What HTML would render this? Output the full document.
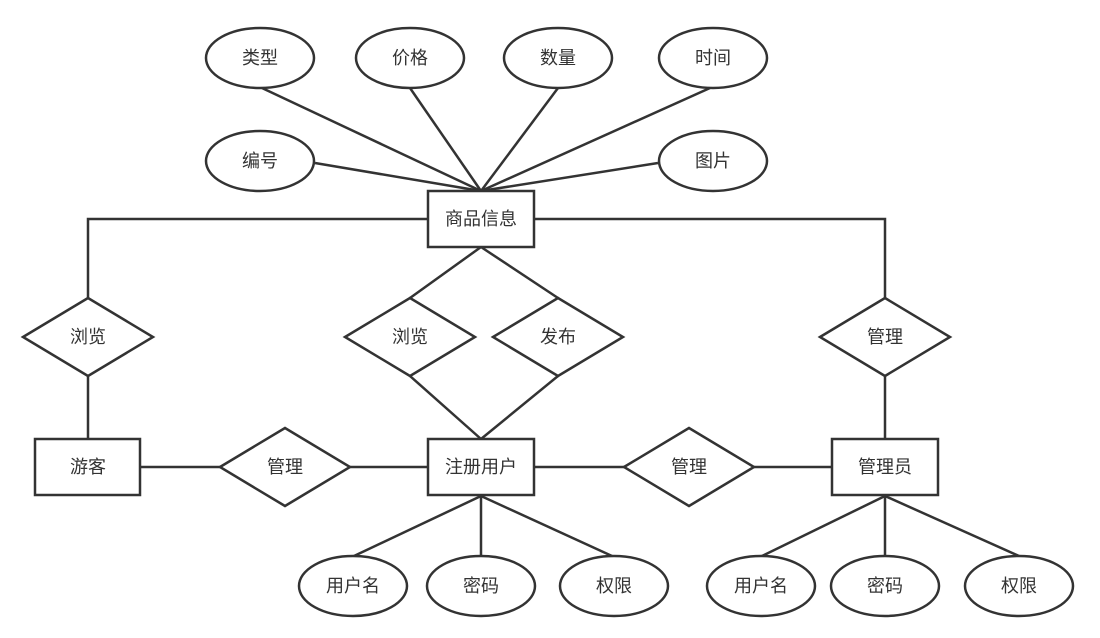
<!DOCTYPE html>
<html><head><meta charset="utf-8"><style>
html,body{margin:0;padding:0;background:#fff;}
svg{display:block;}
text{font-family:"Liberation Sans","Noto Sans CJK SC",sans-serif;font-size:18px;fill:#333;text-anchor:middle;dominant-baseline:central;}
</style></head><body>
<svg width="1100" height="638" viewBox="0 0 1100 638" xmlns="http://www.w3.org/2000/svg">
<g stroke="#333" stroke-width="2.5" fill="none">
<!-- attribute lines top -->
<line x1="262" y1="88" x2="481" y2="191"/>
<line x1="410" y1="88" x2="481" y2="191"/>
<line x1="558" y1="88" x2="481" y2="191"/>
<line x1="710" y1="88" x2="481" y2="191"/>
<line x1="315" y1="163" x2="481" y2="191"/>
<line x1="658" y1="163" x2="481" y2="191"/>
<!-- left/right connectors -->
<polyline points="428,219 88,219 88,298"/>
<line x1="88" y1="376" x2="88" y2="439"/>
<polyline points="534,219 885,219 885,298"/>
<line x1="885" y1="376" x2="885" y2="439"/>
<!-- middle -->
<line x1="481" y1="247" x2="410" y2="298"/>
<line x1="481" y1="247" x2="558" y2="298"/>
<line x1="410" y1="376" x2="481" y2="439"/>
<line x1="558" y1="376" x2="481" y2="439"/>
<!-- horizontal bottom -->
<line x1="140" y1="467" x2="220" y2="467"/>
<line x1="350" y1="467" x2="428" y2="467"/>
<line x1="534" y1="467" x2="624" y2="467"/>
<line x1="754" y1="467" x2="832" y2="467"/>
<!-- bottom attributes -->
<line x1="481" y1="496" x2="354" y2="556"/>
<line x1="481" y1="496" x2="481" y2="556"/>
<line x1="481" y1="496" x2="612" y2="556"/>
<line x1="885" y1="496" x2="762" y2="556"/>
<line x1="885" y1="496" x2="885" y2="556"/>
<line x1="885" y1="496" x2="1019" y2="556"/>
</g>
<g stroke="#333" stroke-width="2.5" fill="#fff">
<ellipse cx="260" cy="58" rx="54" ry="30"/>
<ellipse cx="410" cy="58" rx="54" ry="30"/>
<ellipse cx="558" cy="58" rx="54" ry="30"/>
<ellipse cx="713" cy="58" rx="54" ry="30"/>
<ellipse cx="260" cy="161" rx="54" ry="30"/>
<ellipse cx="713" cy="161" rx="54" ry="30"/>
<rect x="428" y="191" width="106" height="56"/>
<polygon points="23,337 88,298 153,337 88,376"/>
<polygon points="345,337 410,298 475,337 410,376"/>
<polygon points="493,337 558,298 623,337 558,376"/>
<polygon points="820,337 885,298 950,337 885,376"/>
<rect x="35" y="439" width="105" height="56"/>
<rect x="428" y="439" width="106" height="56"/>
<rect x="832" y="439" width="106" height="56"/>
<polygon points="220,467 285,428 350,467 285,506"/>
<polygon points="624,467 689,428 754,467 689,506"/>
<ellipse cx="353" cy="586" rx="54" ry="30"/>
<ellipse cx="481" cy="586" rx="54" ry="30"/>
<ellipse cx="614" cy="586" rx="54" ry="30"/>
<ellipse cx="761" cy="586" rx="54" ry="30"/>
<ellipse cx="885" cy="586" rx="54" ry="30"/>
<ellipse cx="1019" cy="586" rx="54" ry="30"/>
</g>
<text x="260" y="58">类型</text>
<text x="410" y="58">价格</text>
<text x="558" y="58">数量</text>
<text x="713" y="58">时间</text>
<text x="260" y="161">编号</text>
<text x="713" y="161">图片</text>
<text x="481" y="219">商品信息</text>
<text x="88" y="337">浏览</text>
<text x="410" y="337">浏览</text>
<text x="558" y="337">发布</text>
<text x="885" y="337">管理</text>
<text x="88" y="467">游客</text>
<text x="285" y="467">管理</text>
<text x="481" y="467">注册用户</text>
<text x="689" y="467">管理</text>
<text x="885" y="467">管理员</text>
<text x="353" y="586">用户名</text>
<text x="481" y="586">密码</text>
<text x="614" y="586">权限</text>
<text x="761" y="586">用户名</text>
<text x="885" y="586">密码</text>
<text x="1019" y="586">权限</text>
</svg>
</body></html>
